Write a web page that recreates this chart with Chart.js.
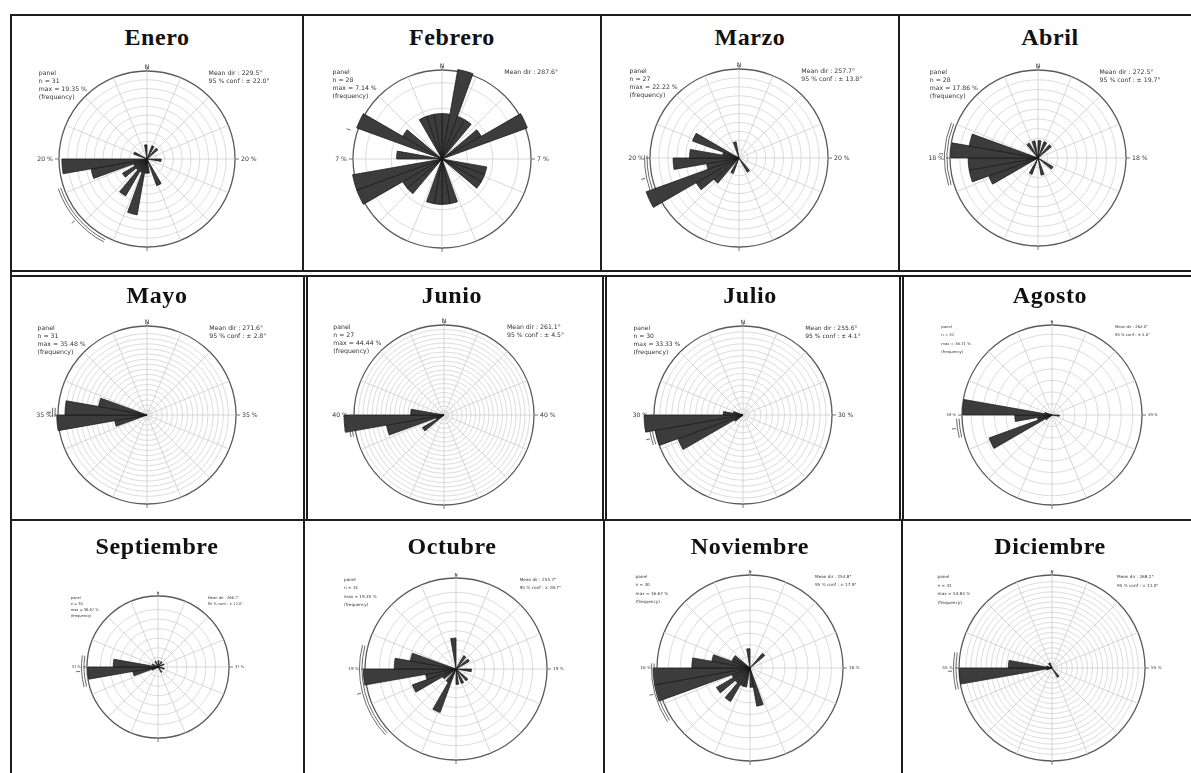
<!DOCTYPE html>
<html>
<head>
<meta charset="utf-8">
<script src="https://cdn.jsdelivr.net/npm/chart.js@4.4.1/dist/chart.umd.min.js"></script>
<style>
  html, body { margin: 0; padding: 0; background: #fff; }
  body { width: 1191px; height: 773px; overflow: hidden; position: relative; }
  .rule { position: absolute; background: #1e1e1e; }
  .title {
    position: absolute; width: 300px; text-align: center;
    font: bold 24px "Liberation Serif", "DejaVu Serif", serif;
    letter-spacing: 0.6px; line-height: 24px; color: #111; white-space: nowrap;
  }
  canvas { position: absolute; }
</style>
</head>
<body>
<script>
// Direction bins, 10° wide, clockwise from north
const directionBins = [
  '0-10','10-20','20-30','30-40','40-50','50-60','60-70','70-80','80-90',
  '90-100','100-110','110-120','120-130','130-140','140-150','150-160','160-170','170-180',
  '180-190','190-200','200-210','210-220','220-230','230-240','240-250','250-260','260-270',
  '270-280','280-290','290-300','300-310','310-320','320-330','330-340','340-350','350-360'
];

const months = ['Enero','Febrero','Marzo','Abril','Mayo','Junio','Julio','Agosto',
                'Septiembre','Octubre','Noviembre','Diciembre'];

// Frequency (%) per direction bin for each month
const freqEnero = [0,0,3.23,0,3.23,0,0,0,0,3.23, 0,0,0,0,0,6.45,0,3.23,3.23,12.90,
                   3.23,9.68,3.23,6.45,3.23,12.90,19.35,0,0,3.23, 0,0,0,0,0,3.23];
const freqFebrero = [3.57,7.14,3.57,3.57,0,3.57,7.14,0,0,0, 3.57,3.57,3.57,0,0,0,3.57,3.57,3.57,3.57,
                     0,0,3.57,3.57,7.14,7.14,0,3.57,0,7.14, 3.57,0,0,3.57,3.57,3.57];
const freqMarzo = [0,0,0,0,0,0,0,0,0,0, 0,0,0,0,3.70,0,0,0,0,0,
                   3.70,0,7.41,11.11,22.22,7.41,14.81,11.11,3.70,11.11, 0,0,0,0,3.70,0];
const freqAbril = [3.57,0,3.57,0,3.57,0,0,0,0,0, 0,0,3.57,0,0,0,3.57,0,0,0,
                   3.57,0,0,0,10.71,14.29,14.29,17.86,14.29,0, 0,0,3.57,0,3.57,0];
const freqMayo = [0,0,0,0,0,0,0,0,0,0, 0,0,0,0,0,0,0,0,0,0,
                  0,0,0,0,0,12.90,35.48,32.26,19.35,0, 0,0,0,0,0,0];
const freqJunio = [0,0,0,0,0,0,0,0,0,0, 0,0,0,0,0,0,0,0,0,0,
                   0,0,0,11.11,3.70,25.93,44.44,14.81,0,0, 0,0,0,0,0,0];
const freqJulio = [0,0,0,0,0,0,0,0,0,0, 0,0,0,0,0,0,0,0,0,0,
                   0,0,0,3.33,23.33,30.00,33.33,6.67,3.33,0, 0,0,0,0,0,0];
const freqAgosto = [0,0,0,0,0,0,0,0,0,3.23, 0,0,0,0,0,0,0,0,0,0,
                    0,0,0,3.23,29.03,6.45,16.13,38.71,3.23,0, 0,0,0,0,0,0];
const freqSeptiembre = [3.33,0,0,3.33,0,0,3.33,0,0,0, 3.33,0,0,0,3.33,0,0,0,0,0,
                        0,0,0,0,3.33,13.33,36.67,23.33,0,3.33, 0,0,0,3.33,0,0];
const freqOctubre = [0,0,0,3.23,0,3.23,0,0,0,3.23, 0,0,0,3.23,0,3.23,0,3.23,0,0,
                     9.68,3.23,0,3.23,9.68,6.45,19.35,12.90,9.68,0, 0,0,0,0,0,6.45];
const freqNoviembre = [0,0,0,0,3.33,0,0,0,0,0, 0,0,0,0,0,0,6.67,3.33,0,3.33,
                       3.33,6.67,3.33,6.67,3.33,16.67,16.67,10.00,6.67,3.33, 3.33,0,0,0,0,3.33];
const freqDiciembre = [0,0,0,0,0,0,0,0,0,0, 0,0,0,0,6.45,0,0,0,0,0,
                       0,0,0,0,0,3.23,54.84,25.81,3.23,0, 0,0,3.23,3.23,0,0];

const monthFreq = [freqEnero, freqFebrero, freqMarzo, freqAbril, freqMayo, freqJunio,
                   freqJulio, freqAgosto, freqSeptiembre, freqOctubre, freqNoviembre, freqDiciembre];

// Summary statistics printed beside each rose
const sampleSize = [31, 28, 27, 28, 31, 27, 30, 31, 30, 31, 30, 31];
const meanDir    = [229.5, 287.6, 257.7, 272.5, 271.6, 261.1, 255.6, 262.0, 266.7, 255.7, 254.8, 268.2];
const conf95     = [22.0, null, 13.8, 19.7, 2.8, 4.5, 4.1, 5.8, 12.0, 28.7, 17.9, 11.0];

// Outer ring value (%) and ring spacing (%)
const outerRing = [20, 7, 20, 18, 35, 40, 30, 39, 37, 19, 16, 55];
const ringStep  = [2, 2, 2, 2, 2, 2, 2, 5, 5, 2, 2, 3];

// ---- page layout ----
const cells = [
  {cx: 147,  cy: 159, R: 88, font: 6.2, gap: 8},
  {cx: 442,  cy: 159, R: 89, font: 6.2, gap: 8},
  {cx: 739,  cy: 158, R: 89, font: 6.2, gap: 8},
  {cx: 1038, cy: 158, R: 88, font: 6.2, gap: 8},
  {cx: 147,  cy: 415, R: 89, font: 6.2, gap: 8},
  {cx: 444,  cy: 415, R: 90, font: 6.2, gap: 8},
  {cx: 743,  cy: 415, R: 89, font: 6.0, gap: 8},
  {cx: 1052, cy: 415, R: 90, font: 3.8, gap: 8.3},
  {cx: 158,  cy: 667, R: 71, font: 3.6, gap: 6},
  {cx: 456,  cy: 669, R: 91, font: 4.2, gap: 8.3},
  {cx: 750,  cy: 668, R: 93, font: 4.2, gap: 8.3},
  {cx: 1052, cy: 668, R: 93, font: 4.2, gap: 8.5}
];
const colCenters = [157, 452, 750, 1050];
const titleTops = [25, 283, 534];

const rules = [
  // horizontal
  {x: 10, y: 14, w: 1181, h: 2},
  {x: 10, y: 270, w: 1181, h: 2},
  {x: 10, y: 275, w: 1181, h: 1.5},
  {x: 10, y: 519, w: 1181, h: 2},
  // vertical, row 1
  {x: 10, y: 14, w: 2, h: 759},
  {x: 302, y: 14, w: 1.5, h: 258},
  {x: 600, y: 14, w: 1.5, h: 258},
  {x: 898, y: 14, w: 1.5, h: 258},
  // row 2
  {x: 303, y: 275, w: 1.5, h: 246},
  {x: 306, y: 275, w: 1.5, h: 246},
  {x: 602, y: 275, w: 1.5, h: 246},
  {x: 605, y: 275, w: 1.5, h: 246},
  {x: 899, y: 275, w: 1.5, h: 246},
  {x: 902, y: 275, w: 1.5, h: 246},
  // row 3
  {x: 303, y: 519, w: 2, h: 254},
  {x: 603, y: 519, w: 2, h: 254},
  {x: 901, y: 519, w: 2, h: 254}
];

rules.forEach(r => {
  const d = document.createElement('div');
  d.className = 'rule';
  Object.assign(d.style, {left: r.x + 'px', top: r.y + 'px', width: r.w + 'px', height: r.h + 'px'});
  document.body.appendChild(d);
});

// Rose decorations: spokes, compass ticks, ring label, confidence arc, text blocks
const roseDecor = {
  id: 'roseDecor',
  beforeDatasetsDraw(chart, _args, o) {
    const s = chart.scales.r, ctx = chart.ctx;
    const cx = s.xCenter, cy = s.yCenter, R = s.drawingArea;
    ctx.save();
    ctx.strokeStyle = '#cdcdcd';
    ctx.lineWidth = 0.8;
    for (let k = 0; k < o.spokes; k++) {
      const a = (k * 360 / o.spokes - 90) * Math.PI / 180;
      ctx.beginPath();
      ctx.moveTo(cx, cy);
      ctx.lineTo(cx + R * Math.cos(a), cy + R * Math.sin(a));
      ctx.stroke();
    }
    ctx.restore();
  },
  afterDatasetsDraw(chart, _args, o) {
    const s = chart.scales.r, ctx = chart.ctx;
    const cx = s.xCenter, cy = s.yCenter, R = s.drawingArea;
    const rad = b => (b - 90) * Math.PI / 180;
    const at = (b, r) => [cx + r * Math.cos(rad(b)), cy + r * Math.sin(rad(b))];
    ctx.save();
    ctx.strokeStyle = '#555';
    ctx.lineWidth = 0.8;
    [0, 90, 180, 270].forEach(b => {
      const p1 = at(b, R), p2 = at(b, R + 4);
      ctx.beginPath(); ctx.moveTo(p1[0], p1[1]); ctx.lineTo(p2[0], p2[1]); ctx.stroke();
    });
    if (o.conf != null) {
      ctx.strokeStyle = '#444';
      [3, 5.5].forEach(d => {
        ctx.beginPath();
        ctx.arc(cx, cy, R + d, rad(o.mean - o.conf), rad(o.mean + o.conf));
        ctx.stroke();
      });
    }
    const t1 = at(o.mean, R + 7), t2 = at(o.mean, R + 11);
    ctx.strokeStyle = '#444';
    ctx.beginPath(); ctx.moveTo(t1[0], t1[1]); ctx.lineTo(t2[0], t2[1]); ctx.stroke();

    ctx.fillStyle = '#333';
    ctx.font = o.font + 'px "DejaVu Sans", sans-serif';
    ctx.textAlign = 'center'; ctx.textBaseline = 'bottom';
    ctx.fillText('N', cx, cy - R - 1);
    ctx.textBaseline = 'middle';
    ctx.textAlign = 'right'; ctx.fillText(o.ringLabel, cx - R - 6, cy);
    ctx.textAlign = 'left';  ctx.fillText(o.ringLabel, cx + R + 6, cy);

    const top = cy - R + 2;
    o.leftLines.forEach((t, i) => ctx.fillText(t, cx - 1.23 * R, top + i * o.gap));
    o.rightLines.forEach((t, i) => ctx.fillText(t, cx + 0.7 * R, top + i * o.gap));
    ctx.restore();
  }
};

const PAD = 48;
months.forEach((name, i) => {
  const c = cells[i];
  const row = Math.floor(i / 4), col = i % 4;

  const title = document.createElement('div');
  title.className = 'title';
  title.textContent = name;
  title.style.left = (colCenters[col] - 150) + 'px';
  title.style.top = titleTops[row] + 'px';
  document.body.appendChild(title);

  const size = 2 * c.R + 2 * PAD;
  const cv = document.createElement('canvas');
  cv.width = size; cv.height = size;
  cv.style.left = (c.cx - c.R - PAD) + 'px';
  cv.style.top = (c.cy - c.R - PAD) + 'px';
  document.body.appendChild(cv);

  const data = monthFreq[i];
  const outer = outerRing[i];
  const maxVal = Math.max(...data);
  const rightLines = ['Mean dir : ' + meanDir[i].toFixed(1) + '°'];
  if (conf95[i] != null) rightLines.push('95 % conf : ± ' + conf95[i].toFixed(1) + '°');

  new Chart(cv, {
    type: 'polarArea',
    data: {
      labels: directionBins,
      datasets: [{
        data: data,
        backgroundColor: '#3c3c3c',
        borderColor: '#161616',
        borderWidth: 0.7,
        clip: false
      }]
    },
    options: {
      responsive: false,
      animation: false,
      devicePixelRatio: 1,
      layout: {padding: PAD},
      plugins: {
        legend: {display: false},
        tooltip: {enabled: false},
        roseDecor: {
          spokes: 16,
          conf: conf95[i],
          mean: meanDir[i],
          ringLabel: outer + ' %',
          font: c.font,
          gap: c.gap,
          leftLines: ['panel', 'n = ' + sampleSize[i], 'max = ' + maxVal.toFixed(2) + ' %', '(frequency)'],
          rightLines: rightLines
        }
      },
      scales: {
        r: {
          min: 0,
          max: outer,
          startAngle: 0,
          ticks: {display: false, stepSize: ringStep[i]},
          angleLines: {display: false},
          pointLabels: {display: false},
          grid: {
            circular: true,
            color: ctx => (ctx.tick && Math.abs(ctx.tick.value - outer) < 1e-6) ? '#5a5a5a' : '#d3d3d3',
            lineWidth: ctx => (ctx.tick && Math.abs(ctx.tick.value - outer) < 1e-6) ? 1.3 : 0.8
          }
        }
      }
    },
    plugins: [roseDecor]
  });
});
</script>
</body>
</html>
